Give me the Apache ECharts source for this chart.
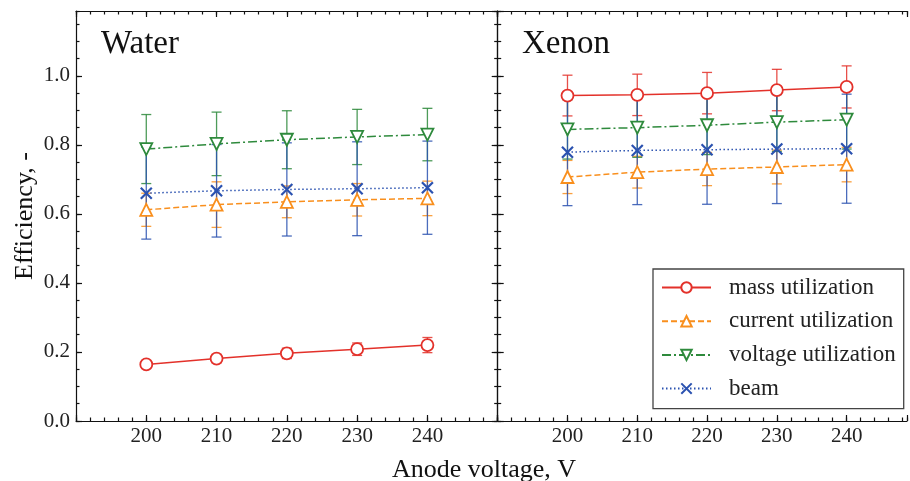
<!DOCTYPE html>
<html>
<head>
<meta charset="utf-8">
<script src="https://cdn.jsdelivr.net/npm/echarts@6/dist/echarts.min.js"></script>
<style>
  html, body { margin: 0; padding: 0; background: #fff; }
  #chart { width: 910px; height: 481px; }
</style>
</head>
<body>
<div id="chart"></div>
<script>
// anode voltage, V
const voltages = [200, 210, 220, 230, 240];

// Water panel
const waterMass = [0.164, 0.181, 0.196, 0.208, 0.220];
const waterMassErr = [0.010, 0.012, 0.015, 0.018, 0.022];
const waterCurrent = [0.612, 0.627, 0.635, 0.641, 0.645];
const waterCurrentErr = [0.048, 0.066, 0.046, 0.047, 0.050];
const waterVoltage = [0.788, 0.803, 0.815, 0.823, 0.830];
const waterVoltageErr = [0.100, 0.092, 0.084, 0.080, 0.076];
const waterBeam = [0.660, 0.667, 0.671, 0.673, 0.676];
const waterBeamErr = [0.133, 0.134, 0.135, 0.136, 0.135];

// Xenon panel
const xenonMass = [0.943, 0.945, 0.950, 0.959, 0.968];
const xenonMassErr = [0.059, 0.060, 0.060, 0.060, 0.061];
const xenonCurrent = [0.707, 0.721, 0.730, 0.736, 0.743];
const xenonCurrentErr = [0.048, 0.046, 0.048, 0.049, 0.050];
const xenonVoltage = [0.845, 0.850, 0.857, 0.866, 0.873];
const xenonVoltageErr = [0.086, 0.086, 0.085, 0.085, 0.085];
const xenonBeam = [0.779, 0.784, 0.786, 0.788, 0.789];
const xenonBeamErr = [0.155, 0.157, 0.158, 0.158, 0.158];

const panelNames = ["Water", "Xenon"];
const seriesNames = ["mass utilization", "current utilization", "voltage utilization", "beam"];
const yTicks = [0, 0.2, 0.4, 0.6, 0.8, 1.0];

const FONT = "Liberation Serif";
const colors = ["#e3312a", "#f98f1d", "#2e8a3c", "#2b52b0"];
const lineTypes = ["solid", [6, 3], [9, 3, 2, 3], [1.5, 2.5]];
const symbols = ["circle", "triangle", "triangle", "path://M0,0L10,10M10,0L0,10"];
const rotates = [0, 0, 180, 0];

const panels = [
  { vals: [waterMass, waterCurrent, waterVoltage, waterBeam],
    errs: [waterMassErr, waterCurrentErr, waterVoltageErr, waterBeamErr] },
  { vals: [xenonMass, xenonCurrent, xenonVoltage, xenonBeam],
    errs: [xenonMassErr, xenonCurrentErr, xenonVoltageErr, xenonBeamErr] }
];

// the xenon panel runs off the right edge of the picture
const X_MAX = [250, 248.65];
const Y_MAX = 1.188;
const tickLine = { color: "#111", width: 1.2 };

function xAxisFor(grid, pos, major, labels) {
  return {
    type: "value", gridIndex: grid, position: pos,
    min: 190, max: X_MAX[grid], interval: major ? 10 : 2,
    axisLine: { show: major, onZero: false, lineStyle: tickLine },
    axisTick: { show: true, inside: true, length: major ? 6 : 3.5, lineStyle: tickLine },
    splitLine: { show: false },
    axisLabel: {
      show: labels, margin: 5, fontFamily: FONT, fontSize: 21, color: "#222",
      formatter: v => (voltages.indexOf(v) >= 0 ? String(v) : "")
    }
  };
}

function yAxisFor(grid, pos, major, labels, visible) {
  return {
    type: "value", gridIndex: grid, position: pos, show: visible,
    min: 0, max: Y_MAX, interval: major ? 0.2 : 0.05,
    axisLine: { show: major, onZero: false, lineStyle: tickLine },
    axisTick: { show: true, inside: true, length: major ? 6 : 3.5, lineStyle: tickLine },
    splitLine: { show: false },
    axisLabel: {
      show: labels, margin: 6, fontFamily: FONT, fontSize: 21, color: "#222",
      showMaxLabel: false,
      formatter: v => (yTicks.some(t => Math.abs(t - v) < 1e-6) ? v.toFixed(1) : "")
    }
  };
}

const xAxes = [];
const yAxes = [];
[0, 1].forEach(g => {
  xAxes.push(
    xAxisFor(g, "bottom", true, true), xAxisFor(g, "bottom", false, false),
    xAxisFor(g, "top", true, false), xAxisFor(g, "top", false, false)
  );
  yAxes.push(
    yAxisFor(g, "left", true, g === 0, true), yAxisFor(g, "left", false, false, true),
    yAxisFor(g, "right", true, false, g === 0), yAxisFor(g, "right", false, false, g === 0)
  );
});

function errorBars(color) {
  return function (params, api) {
    const x = api.value(0), y = api.value(1), e = api.value(2);
    const top = api.coord([x, y + e]);
    const bot = api.coord([x, y - e]);
    const hw = 5;
    const st = { stroke: color, lineWidth: 1.3, opacity: 0.85 };
    return {
      type: "group",
      children: [
        { type: "line", shape: { x1: top[0], y1: top[1], x2: bot[0], y2: bot[1] }, style: st },
        { type: "line", shape: { x1: top[0] - hw, y1: top[1], x2: top[0] + hw, y2: top[1] }, style: st },
        { type: "line", shape: { x1: bot[0] - hw, y1: bot[1], x2: bot[0] + hw, y2: bot[1] }, style: st }
      ]
    };
  };
}

const series = [];
panels.forEach((p, g) => {
  seriesNames.forEach((name, i) => {
    series.push({
      type: "custom",
      coordinateSystem: "cartesian2d",
      xAxisIndex: g * 4, yAxisIndex: g * 4,
      renderItem: errorBars(colors[i]),
      data: voltages.map((v, k) => [v, p.vals[i][k], p.errs[i][k]]),
      encode: { x: 0, y: 1 },
      silent: true,
      clip: false,
      z: 2
    });
  });
  seriesNames.forEach((name, i) => {
    series.push({
      name: name,
      type: "line",
      xAxisIndex: g * 4, yAxisIndex: g * 4,
      data: voltages.map((v, k) => [v, p.vals[i][k]]),
      symbol: symbols[i],
      symbolSize: i === 3 ? 11 : 12,
      symbolRotate: rotates[i],
      showAllSymbol: true,
      lineStyle: { color: colors[i], width: 1.5, type: lineTypes[i] },
      itemStyle: {
        color: i === 3 ? colors[i] : "#fff",
        borderColor: colors[i],
        borderWidth: i === 3 ? 2.2 : 1.8
      },
      emphasis: { disabled: true },
      z: 3 + i
    });
  });
});

const chart = echarts.init(document.getElementById("chart"), null, { renderer: "canvas" });
chart.setOption({
  animation: false,
  backgroundColor: "#fff",
  grid: [
    { left: 76, top: 11, right: 412.3, bottom: 60 },
    { left: 497.7, top: 11, right: 0, bottom: 60 }
  ],
  xAxis: xAxes,
  yAxis: yAxes,
  legend: {
    data: seriesNames,
    orient: "vertical",
    left: 653, top: 269,
    backgroundColor: "#fff",
    borderColor: "#444", borderWidth: 1.3, borderRadius: 0,
    padding: [6.5, 8, 8, 8],
    itemWidth: 49, itemHeight: 13, itemGap: 9.7,
    textStyle: { fontFamily: FONT, fontSize: 23, color: "#222", lineHeight: 24, padding: [0, 0, 0, 13] },
    selectedMode: false
  },
  graphic: [
    { type: "text", left: 101, top: 28, style: { text: panelNames[0], font: "33px " + FONT, fill: "#111" } },
    { type: "text", left: 522, top: 28, style: { text: panelNames[1], font: "33px " + FONT, fill: "#111" } },
    { type: "text", x: 484, y: 470, style: { text: "Anode voltage, V", font: "26px " + FONT, fill: "#111", textAlign: "center", textVerticalAlign: "middle" } },
    { type: "text", x: 25, y: 216, rotation: Math.PI / 2, style: { text: "Efficiency, -", font: "26px " + FONT, fill: "#111", textAlign: "center", textVerticalAlign: "middle" } }
  ],
  series: series
});
</script>
</body>
</html>
